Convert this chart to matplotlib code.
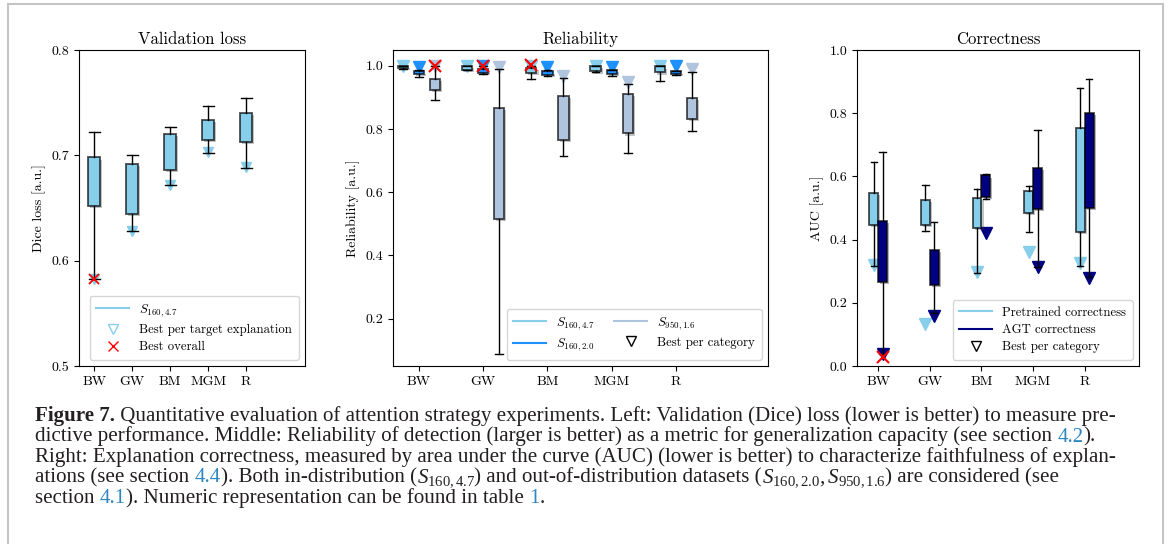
import matplotlib
matplotlib.use("Agg")
import matplotlib.pyplot as plt
import matplotlib.patheffects as pe
from matplotlib.lines import Line2D

plt.rcParams['font.family'] = 'cmr10'
plt.rcParams['mathtext.fontset'] = 'cm'
plt.rcParams['axes.formatter.use_mathtext'] = False
plt.rcParams['axes.unicode_minus'] = False
plt.rcParams['mathtext.rm'] = 'Liberation Serif'
plt.rcParams['mathtext.it'] = 'Liberation Serif:italic'

cats = ['BW', 'GW', 'BM', 'MGM', 'R']

# validation loss, S160,4.7
loss_hi = [0.722, 0.700, 0.727, 0.747, 0.754]
loss_q3 = [0.698, 0.692, 0.720, 0.734, 0.740]
loss_q1 = [0.652, 0.644, 0.686, 0.715, 0.713]
loss_lo = [0.583, 0.628, 0.672, 0.702, 0.688]
loss_best = [0.583, 0.628, 0.672, 0.703, 0.689]
loss_overall = (0, 0.583)  # category index, value

# reliability: S160,4.7 / S160,2.0 / S950,1.6
rel_labels = ['$S_{160,4.7}$', '$S_{160,2.0}$', '$S_{950,1.6}$']
rel_colors = ['skyblue', 'dodgerblue', 'lightsteelblue']
rel_hi = [[1.0, 1.0, 1.0, 1.0, 1.0],
          [0.987, 1.0, 0.987, 0.988, 0.982],
          [1.0, 0.989, 0.961, 0.942, 0.980]]
rel_q3 = [[0.999, 1.0, 0.993, 1.0, 0.998],
          [0.982, 0.990, 0.982, 0.987, 0.982],
          [0.958, 0.866, 0.904, 0.912, 0.897]]
rel_q1 = [[0.994, 0.988, 0.977, 0.982, 0.979],
          [0.974, 0.978, 0.970, 0.974, 0.974],
          [0.924, 0.514, 0.764, 0.786, 0.831]]
rel_lo = [[0.990, 0.987, 0.958, 0.980, 0.952],
          [0.964, 0.974, 0.968, 0.969, 0.971],
          [0.891, 0.087, 0.716, 0.725, 0.794]]
rel_best = [[1.0, 1.0, 1.0, 1.0, 1.0],
            [0.995, 1.0, 0.997, 0.997, 0.998],
            [1.0, 0.997, 0.968, 0.950, 0.990]]
rel_overall = [(0, 2, 1.0), (1, 1, 1.0), (2, 0, 1.002)]  # category, series, value

# correctness (AUC): pretrained / AGT
corr_labels = ['Pretrained correctness', 'AGT correctness']
corr_colors = ['skyblue', 'navy']
corr_hi = [[0.645, 0.572, 0.561, 0.570, 0.880],
           [0.678, 0.455, 0.608, 0.746, 0.907]]
corr_q3 = [[0.549, 0.526, 0.533, 0.555, 0.754],
           [0.458, 0.367, 0.603, 0.626, 0.802]]
corr_q1 = [[0.446, 0.447, 0.436, 0.483, 0.423],
           [0.265, 0.257, 0.536, 0.496, 0.500]]
corr_lo = [[0.318, 0.427, 0.293, 0.423, 0.318],
           [0.037, 0.167, 0.527, 0.314, 0.283]]
corr_best = [[0.320, 0.133, 0.299, 0.360, 0.325],
             [0.037, 0.158, 0.422, 0.312, 0.280]]
corr_overall = (0, 1, 0.030)

caption = [
    [('Figure 7.', 'b'), (' Quantitative evaluation of attention strategy experiments. Left: Validation (Dice) loss (lower is better) to measure pre-', 'n')],
    [('dictive performance. Middle: Reliability of detection (larger is better) as a metric for generalization capacity (see section ', 'n'), ('4.2', 'l'), (').', 'n')],
    [('Right: Explanation correctness, measured by area under the curve (AUC) (lower is better) to characterize faithfulness of explan-', 'n')],
    [('ations (see section ', 'n'), ('4.4', 'l'), ('). Both in-distribution (', 'n'), ('$S_{160,4.7}$', 'n'),
     (') and out-of-distribution datasets (', 'n'), ('$S_{160,2.0}, S_{950,1.6}$', 'n'), (') are considered (see', 'n')],
    [('section ', 'n'), ('4.1', 'l'), ('). Numeric representation can be found in table ', 'n'), ('1', 'l'), ('.', 'n')],
]

W, H = 1170, 544
fig = plt.figure(figsize=(W / 100, H / 100), dpi=100)
fig.patch.set_facecolor('white')

edge = (0, 0, 0, 0.7)
shadow = [pe.SimplePatchShadow(offset=(1.5, -1.5), alpha=0.3), pe.Normal()]


def draw_boxes(ax, pos, lo, q1, q3, hi, color, width, capfrac):
    stats = [dict(whislo=a, q1=b, med=b, q3=c, whishi=d) for a, b, c, d in zip(lo, q1, q3, hi)]
    art = ax.bxp(stats, positions=pos, widths=width, capwidths=width * capfrac,
                 patch_artist=True, showfliers=False, manage_ticks=False, zorder=3,
                 boxprops=dict(facecolor=color, edgecolor=edge, linewidth=1.3),
                 whiskerprops=dict(color='k', lw=1), capprops=dict(color='k', lw=1),
                 medianprops=dict(lw=0))
    for b in art['boxes']:
        b.set_path_effects(shadow)


def ax_at(x0, x1, y0, y1):
    return fig.add_axes([x0 / W, 1 - y1 / H, (x1 - x0) / W, (y1 - y0) / H])


leg_kw = dict(fontsize=9.2, handlelength=2.6, borderpad=0.5, labelspacing=0.4)
xs = [1, 2, 3, 4, 5]

# ---- left: validation loss
ax1 = ax_at(79, 305, 50, 366)
draw_boxes(ax1, xs, loss_lo, loss_q1, loss_q3, loss_hi, 'skyblue', 0.32, 0.9)
ax1.plot(xs, loss_best, 'v', color='skyblue', ms=7, ls='none', zorder=2)
ax1.plot(xs[loss_overall[0]], loss_overall[1], 'x', color='red', ms=7, mew=1.3, zorder=5)
ax1.set_xlim(0.6, 6.55)
ax1.set_ylim(0.5, 0.8)
ax1.set_yticks([0.5, 0.6, 0.7, 0.8])
ax1.set_xticks(xs, cats)
ax1.set_ylabel('Dice loss [a.u.]', fontsize=10)
ax1.set_title('Validation loss', fontsize=12, pad=4)
h1 = [Line2D([], [], color='skyblue', lw=1.5),
      Line2D([], [], marker='v', ls='none', mfc='none', mec='skyblue', ms=7),
      Line2D([], [], marker='x', ls='none', color='red', ms=7)]
ax1.legend(h1, ['$S_{160,4.7}$', 'Best per target explanation', 'Best overall'], loc='lower right', **leg_kw)

# ---- middle: reliability
ax2 = ax_at(393, 768, 50, 366)
offs = [-0.25, 0.0, 0.25]
for s in range(3):
    p = [x + offs[s] for x in xs]
    draw_boxes(ax2, p, rel_lo[s], rel_q1[s], rel_q3[s], rel_hi[s], rel_colors[s], 0.16, 0.75)
    ax2.plot(p, rel_best[s], 'v', color=rel_colors[s], ms=8, ls='none', zorder=2)
for c, s, v in rel_overall:
    ax2.plot(xs[c] + offs[s], v, 'x', color='red', ms=8, mew=1.5, zorder=5)
ax2.set_xlim(0.6, 6.43)
ax2.set_ylim(0.05, 1.05)
ax2.set_yticks([0.2, 0.4, 0.6, 0.8, 1.0])
ax2.set_xticks(xs, cats)
ax2.set_ylabel('Reliability [a.u.]', fontsize=10)
ax2.set_title('Reliability', fontsize=12, pad=4)
h2 = [Line2D([], [], color=c, lw=1.5) for c in rel_colors]
h2.append(Line2D([], [], marker='v', ls='none', mfc='none', mec='k', ms=7))
ax2.legend(h2, rel_labels + ['Best per category'], loc='lower right', ncol=2, columnspacing=1.5, **leg_kw)

# ---- right: correctness
ax3 = ax_at(857, 1139, 50, 366)
coffs = [-0.085, 0.085]
for s in range(2):
    p = [x + coffs[s] for x in xs]
    draw_boxes(ax3, p, corr_lo[s], corr_q1[s], corr_q3[s], corr_hi[s], corr_colors[s], 0.17, 0.7)
    ax3.plot(p, corr_best[s], 'v', color=corr_colors[s], ms=8, ls='none', zorder=2)
c, s, v = corr_overall
ax3.plot(xs[c] + coffs[s], v, 'x', color='red', ms=8, mew=1.5, zorder=5)
ax3.set_xlim(0.59, 6.05)
ax3.set_ylim(0.0, 1.0)
ax3.set_yticks([0.0, 0.2, 0.4, 0.6, 0.8, 1.0])
ax3.set_xticks(xs, cats)
ax3.set_ylabel('AUC [a.u.]', fontsize=10)
ax3.set_title('Correctness', fontsize=12, pad=4)
h3 = [Line2D([], [], color=c, lw=1.5) for c in corr_colors]
h3.append(Line2D([], [], marker='v', ls='none', mfc='none', mec='k', ms=7))
ax3.legend(h3, corr_labels + ['Best per category'], loc='lower right', **leg_kw)

for ax in (ax1, ax2, ax3):
    ax.tick_params(labelsize=10)

# ---- caption
renderer = fig.canvas.get_renderer()
styles = {'n': dict(color='#231f20'), 'b': dict(color='#231f20', fontweight='bold'),
          'l': dict(color='#2e86c1')}


def text_w(s, kw):
    t = fig.text(0, 0, s, **kw)
    w = t.get_window_extent(renderer).width
    t.remove()
    return w


def advance(s, kw):
    return text_w('|' + s + '|', kw) - text_w('||', kw)


def cap_kw(size, st):
    return dict(family='Liberation Serif', size=size, math_fontfamily='custom', **styles[st])


line1 = sum(advance(s, cap_kw(12, st)) for s, st in caption[0])
cap_fs = 12 * (1112 - 35) / line1

baselines = [421, 441.5, 462, 482.5, 503]
for line, yb in zip(caption, baselines):
    x = 35
    for s, st in line:
        kw = cap_kw(cap_fs, st)
        fig.text(x / W, 1 - yb / H, s, va='baseline', ha='left', **kw)
        x += advance(s, kw)

# frame lines around the figure
gray = '#c4c4c4'
fig.add_artist(Line2D([8 / W, 8 / W], [0, 1 - 4 / H], color=gray, lw=1.5))
fig.add_artist(Line2D([8 / W, 1163 / W], [1 - 4 / H, 1 - 4 / H], color=gray, lw=1.5))
fig.add_artist(Line2D([1163 / W, 1163 / W], [0, 1 - 4 / H], color=gray, lw=1.5))

fig.savefig('out.png', dpi=100)
